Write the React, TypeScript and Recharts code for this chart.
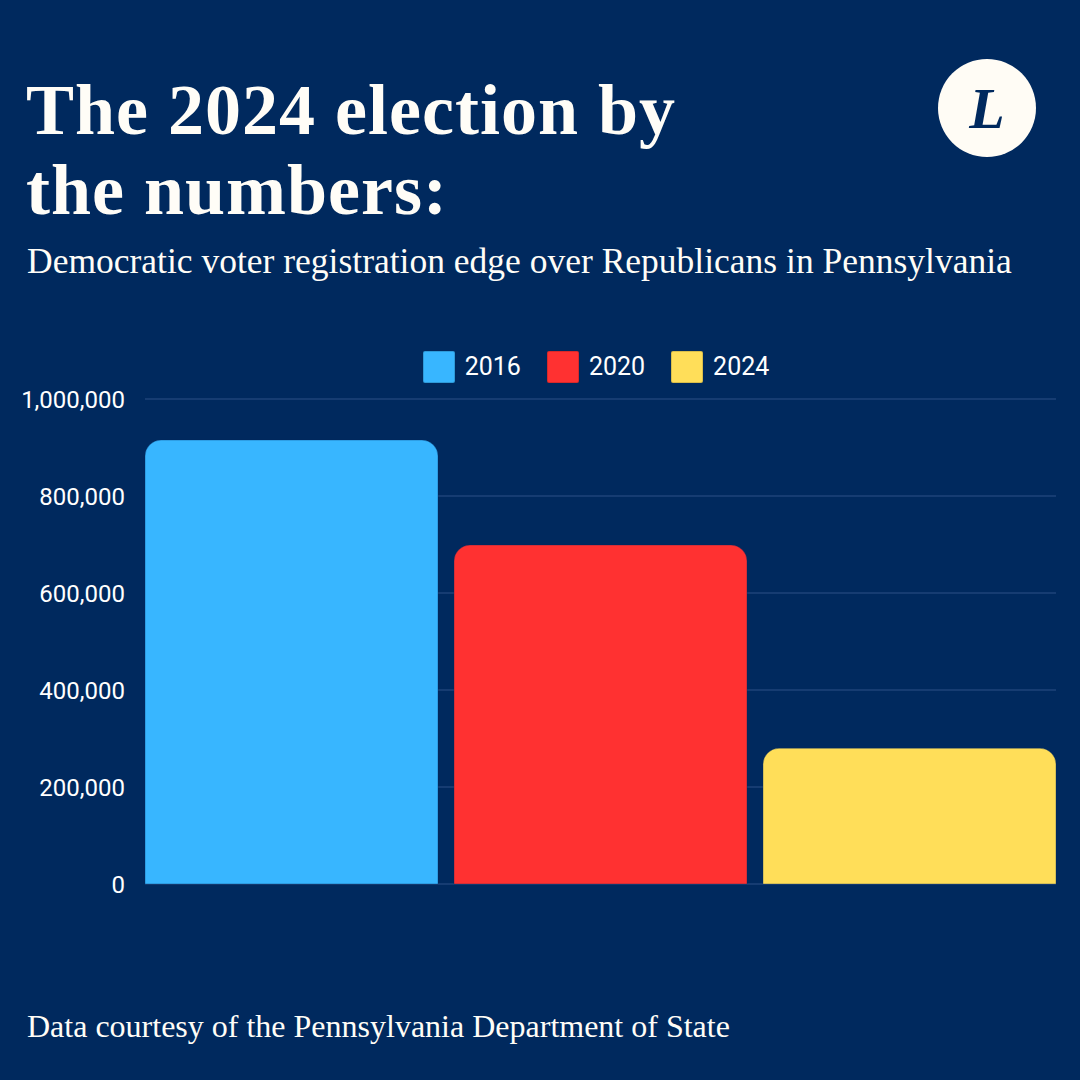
import React from 'react';
import { BarChart, Bar, XAxis, YAxis, CartesianGrid, Legend } from 'recharts';

const categories = ['Pennsylvania'];
const years = ['2016', '2020', '2024'];
const edge2016 = [915500];
const edge2020 = [699000];
const edge2024 = [280000];
const yTicks = [0, 200000, 400000, 600000, 800000, 1000000];

const colors: Record<string, string> = { '2016': '#38b6ff', '2020': '#ff3131', '2024': '#ffde59' };
const BG = '#00295e';

const data = categories.map((c, i) => ({
  name: c,
  '2016': edge2016[i],
  '2020': edge2020[i],
  '2024': edge2024[i],
}));

const serif = '"Liberation Serif", "DejaVu Serif", serif';

function LegendContent() {
  return (
    <div style={{ display: 'flex', justifyContent: 'center', alignItems: 'center', paddingLeft: 112, height: 44, fontFamily: 'Roboto', fontSize: 25, color: '#ffffff' }}>
      {years.map((y, i) => (
        <div key={y} style={{ display: 'flex', alignItems: 'center', marginLeft: i === 0 ? 0 : 26 }}>
          <div style={{ width: 32, height: 32, background: colors[y], borderRadius: 2, boxSizing: 'border-box', border: '1px solid rgba(0,0,0,0.15)' }} />
          <span style={{ marginLeft: 10, lineHeight: '32px' }}>{y}</span>
        </div>
      ))}
    </div>
  );
}

export default function App() {
  return (
    <div style={{ position: 'absolute', left: 0, top: 0, width: 1080, height: 1080, background: BG, overflow: 'hidden' }}>
      <div style={{ position: 'absolute', left: 26, top: 70, fontFamily: serif, fontWeight: 700, fontSize: 72, lineHeight: '80px', color: '#fffdf7', letterSpacing: 1, whiteSpace: 'nowrap' }}>
        <div>The 2024 election by</div>
        <div>the numbers:</div>
      </div>
      <div style={{ position: 'absolute', left: 27, top: 241, fontFamily: serif, fontSize: 35.5, lineHeight: '40px', color: '#fffdf7', whiteSpace: 'nowrap' }}>
        Democratic voter registration edge over Republicans in Pennsylvania
      </div>
      <svg width={1080} height={1080} style={{ position: 'absolute', left: 0, top: 0, pointerEvents: 'none' }}>
        <circle cx={987} cy={108} r={49} fill="#fffcf5" />
        <text x={987} y={128} textAnchor="middle" fontFamily={serif} fontWeight={700} fontStyle="italic" fontSize={58} fill={BG}>L</text>
      </svg>
      <div style={{ position: 'absolute', left: 0, top: 345 }}>
        <BarChart width={1080} height={569} data={data} barCategoryGap={0} barGap={16} margin={{ top: 10, right: 24, bottom: 30, left: 0 }}>
          <CartesianGrid vertical={false} stroke="#2c5186" strokeWidth={1} />
          <XAxis dataKey="name" hide />
          <YAxis
            width={145}
            domain={[0, 1000000]}
            ticks={yTicks}
            axisLine={false}
            tickLine={false}
            tickSize={0}
            tickMargin={20}
            interval={0}
            tick={{ fill: '#ffffff', fontFamily: 'Roboto', fontSize: 24 }}
            tickFormatter={(v: number) => v.toLocaleString('en-US')}
          />
          <Legend verticalAlign="top" align="left" content={<LegendContent />} wrapperStyle={{ left: 0, top: 0, width: 1080 }} />
          {years.map((y) => (
            <Bar key={y} dataKey={y} fill={colors[y]} radius={[16, 16, 0, 0]} stroke="rgba(0,40,94,0.35)" strokeWidth={1} isAnimationActive={false} />
          ))}
        </BarChart>
      </div>
      <div style={{ position: 'absolute', left: 27, top: 1008, fontFamily: serif, fontSize: 32, lineHeight: '36px', color: '#fffdf7', whiteSpace: 'nowrap' }}>
        Data courtesy of the Pennsylvania Department of State
      </div>
    </div>
  );
}
